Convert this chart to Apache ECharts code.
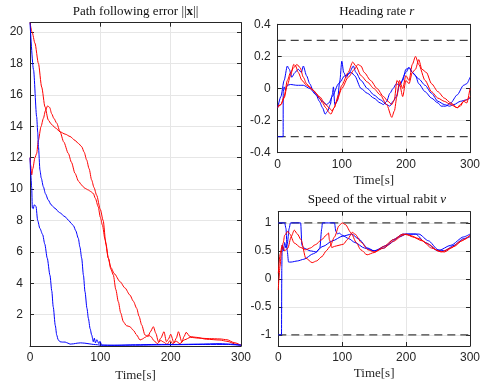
<!DOCTYPE html>
<html><head><meta charset="utf-8">
<script src="https://cdn.jsdelivr.net/npm/echarts@6/dist/echarts.min.js"></script>
<style>html,body{margin:0;padding:0;background:#fff}#c{width:483px;height:389px}</style>
</head><body><div id="c"></div>
<script>
// ---------- DATA ----------
const timeTicks = [0, 100, 200, 300];
const errTicks = [2, 4, 6, 8, 10, 12, 14, 16, 18, 20];
const rateTicks = [-0.4, -0.2, 0, 0.2, 0.4];
const speedTicks = [-1, -0.5, 0, 0.5, 1];
const rateLimits = [0.3, -0.3];
const speedLimits = [1, -1];

// Path following error ||x||
const errBlue1 = [[0,12],[1,11],[2.4,10.1],[3.3,8.8],[4.7,8.75],[6,9.0],[8.5,8.9],[10.9,8.0],[14,7.5],[18,7.1],[21,6.5],[24.5,5.6],[28.4,4.5],[31,3.5],[33,2.5],[36,1.3],[38,0.7],[40,0.4],[42.7,0.27],[46,0.25],[50,0.25],[54,0.18],[57,0.12],[62,0.14],[67,0.18],[72,0.2],[78,0.18],[84,0.14],[90,0.1],[96,0.08],[100,0.05],[120,0.04],[150,0.08],[180,0.1],[210,0.1],[240,0.12],[270,0.15],[285,0.12],[300,0.05]];
const errBlue2 = [[0,20.6],[5,17.6],[9.5,14.6],[11,13.6],[12,12.7],[14.2,11.2],[16,10.7],[19,10.15],[22,9.7],[26,9.3],[30,9.0],[35.5,8.77],[42,8.5],[49.8,8.24],[55,8.0],[59,7.8],[62,7.65],[65,7.35],[68.7,6.86],[71,6.3],[73.5,5.59],[76,4.5],[78.2,3.46],[81,2.4],[83,1.76],[85.5,1.1],[87.7,0.7],[90,0.27],[91.5,0.5],[93,0.2],[95,0.4],[98,0.15],[99.5,0.3],[102,0.06],[110,0.05],[150,0.05],[200,0.08],[250,0.1],[280,0.1],[300,0.05]];
const errRed1 = [[0,20.6],[3,20.0],[7,19.3],[12,18.0],[16.6,16.5],[21.3,15.24],[26,14.4],[30,14.15],[36,13.9],[42.7,13.65],[50,13.5],[57,13.35],[64,13.1],[69,12.9],[73.5,12.7],[77,12.35],[80.6,11.85],[84,11.3],[87.7,10.57],[91,10.1],[94.8,9.6],[100,8.7],[104,8.0],[108,6.5],[111.4,5.6],[115,5.0],[120,4.6],[128,4.1],[135,3.7],[142,3.25],[147,2.85],[151.7,2.4],[155,1.9],[158.8,1.34],[163.5,0.7],[168,0.6],[171,0.9],[175.4,1.23],[179,0.8],[182.5,0.27],[186,0.5],[190.5,0.91],[194,0.27],[197,0.45],[200,0.75],[204.7,0.2],[208,0.5],[211,0.91],[216,0.25],[219,0.6],[222,0.87],[227.5,0.6],[237,0.55],[251,0.43],[270,0.38],[280,0.3],[294,0.1],[300,0.05]];
const errRed2 = [[0,12.0],[1,11.5],[2.4,10.9],[4,11.3],[7,12.0],[9.5,12.27],[11.9,13.1],[15.6,13.97],[19,14.5],[22,15.0],[25,15.3],[28,15.2],[30.8,14.8],[34,14.5],[38,14.2],[42.7,13.65],[48,13.0],[54.5,12.27],[59,11.7],[64,11.0],[69,10.5],[73.5,10.25],[78,10.05],[83,9.94],[86,9.85],[90,9.72],[93,9.4],[97,8.87],[100,8.2],[103,7.7],[106.6,6.8],[111.4,5.59],[115,4.9],[118.5,4.52],[122,3.6],[125.6,2.82],[129,2.1],[132.7,1.55],[137,1.3],[142,1.23],[147,1.0],[151.7,0.7],[156.4,0.38],[160,0.45],[163.5,0.55],[168,0.7],[172,0.6],[176,0.35],[181,0.15],[186,0.35],[190,0.25],[195,0.1],[199,0.35],[203,0.15],[208,0.3],[213,0.15],[220,0.4],[228,0.55],[240,0.5],[255,0.47],[270,0.45],[280,0.4],[290,0.22],[300,0.05]];

// Heading rate r
const rateBlue1 = [[0,-0.3],[8.5,-0.3],[8.6,-0.02],[10,0.01],[12,-0.01],[15,0.02],[20,0.025],[30,0.02],[40,0.02],[50,0.0],[60,-0.04],[70,-0.08],[76,-0.1],[80,-0.09],[85,-0.05],[95,0.03],[105,0.08],[115,0.1],[120,0.08],[130,0.0],[140,-0.03],[150,-0.06],[160,-0.09],[165,-0.1],[170,-0.08],[175,-0.03],[180,0.0],[185,0.03],[190,0.02],[200,0.1],[205,0.13],[210,0.1],[220,0.06],[230,0.02],[240,-0.03],[250,-0.08],[260,-0.1],[268,-0.11],[275,-0.1],[285,-0.08],[295,-0.07],[300,-0.06]];
const rateBlue2 = [[0,-0.12],[5,-0.05],[10,0.05],[15,0.14],[18,0.12],[22,0.07],[27,0.1],[32,0.12],[37,0.1],[40,0.14],[45,0.08],[50,0.03],[55,-0.01],[60,-0.04],[65,-0.08],[70,-0.12],[74,-0.16],[78,-0.14],[82,-0.1],[85,-0.04],[87,0.01],[89,-0.1],[93,-0.08],[97,0.05],[100,0.17],[103,0.1],[107,0.07],[112,0.1],[118,0.14],[122,0.1],[130,0.05],[140,0.0],[150,-0.04],[160,-0.07],[170,-0.1],[175,-0.11],[180,-0.08],[185,-0.05],[190,0.02],[195,0.05],[200,0.12],[205,0.13],[210,0.1],[215,0.08],[220,0.03],[230,-0.02],[240,-0.06],[250,-0.09],[255,-0.11],[262,-0.11],[270,-0.09],[280,-0.04],[290,0.02],[295,0.03],[300,0.07]];
const rateRed1 = [[0,-0.12],[5,-0.1],[10,-0.05],[15,0.05],[20,0.1],[25,0.13],[30,0.15],[35,0.13],[40,0.07],[45,0.03],[50,0.01],[55,-0.01],[60,-0.03],[65,-0.06],[70,-0.09],[75,-0.12],[80,-0.15],[83,-0.16],[88,-0.12],[95,-0.04],[100,0.02],[110,0.1],[117,0.165],[122,0.14],[130,0.08],[140,0.04],[150,0.0],[160,-0.04],[170,-0.1],[178,-0.18],[182,-0.14],[186,-0.05],[190,0.05],[195,0.0],[200,0.08],[205,0.05],[210,0.15],[215,0.2],[220,0.15],[230,0.05],[240,-0.02],[250,-0.06],[260,-0.08],[270,-0.1],[280,-0.12],[285,-0.1],[290,-0.08],[295,-0.07],[300,-0.05]];
const rateRed2 = [[0,-0.11],[5,-0.1],[10,-0.06],[15,0.02],[20,0.08],[25,0.15],[28,0.14],[32,0.1],[38,0.05],[45,0.02],[55,-0.01],[65,-0.05],[75,-0.1],[80,-0.12],[85,-0.14],[88,-0.12],[92,-0.08],[100,0.0],[110,0.07],[120,0.12],[125,0.15],[130,0.14],[135,0.1],[145,0.05],[155,0.0],[165,-0.05],[172,-0.08],[178,-0.1],[182,-0.07],[186,0.05],[190,0.03],[195,-0.05],[200,0.05],[205,0.03],[210,0.1],[215,0.12],[220,0.18],[225,0.12],[232,0.1],[240,0.03],[250,-0.02],[260,-0.06],[270,-0.09],[280,-0.12],[285,-0.11],[290,-0.08],[295,-0.09],[300,0.0]];

// Speed of the virtual rabit v
const speedBlue1 = [[0,-1],[5,-1],[5.5,0.2],[6,0.6],[8,0.5],[10,0.65],[12,0.55],[14,0.62],[17,0.9],[19,1],[35,1],[37,0.6],[40,0.55],[50,0.5],[60,0.48],[65,0.55],[68,0.9],[69,1],[88,1],[90,0.85],[93,0.8],[95,0.82],[100,0.78],[110,0.72],[120,0.65],[135,0.55],[150,0.5],[170,0.6],[190,0.75],[200,0.8],[215,0.8],[230,0.65],[250,0.5],[270,0.6],[290,0.75],[300,0.8]];
const speedBlue2 = [[0,1],[10,1],[12,0.9],[14,0.5],[16,0.3],[20,0.3],[30,0.32],[40,0.35],[55,0.45],[70,0.58],[85,0.68],[100,0.76],[115,0.8],[125,0.72],[140,0.55],[150,0.5],[165,0.55],[180,0.7],[195,0.8],[220,0.8],[235,0.68],[250,0.52],[260,0.5],[275,0.6],[290,0.72],[300,0.75]];
const speedRed1 = [[0,-0.2],[1,0.0],[2.6,0.22],[5,0.5],[7.6,0.64],[10,0.78],[15,0.85],[18,0.8],[25,0.64],[35,0.56],[43,0.52],[50,0.55],[58,0.61],[68,0.7],[75,0.78],[78.6,0.82],[80,0.7],[83.6,0.56],[88,0.58],[95,0.6],[102,0.62],[108,0.7],[116,0.83],[120,0.8],[130,0.65],[140,0.52],[150,0.48],[165,0.55],[180,0.67],[195,0.78],[200,0.8],[210,0.75],[225,0.68],[240,0.55],[255,0.48],[270,0.55],[285,0.67],[300,0.78]];
const speedRed2 = [[0,0.1],[3,0.45],[6,0.6],[10,0.5],[15,0.55],[20,0.75],[25,0.87],[30,0.8],[35.5,0.7],[43,0.37],[53,0.29],[60,0.32],[68.5,0.4],[75,0.5],[81,0.58],[88,0.75],[95,0.95],[100,1.0],[105,0.97],[114,0.82],[122,0.65],[129,0.52],[139,0.43],[150,0.47],[165,0.58],[180,0.7],[195,0.8],[205,0.78],[220,0.72],[235,0.62],[250,0.5],[260,0.48],[275,0.58],[290,0.7],[300,0.77]];

// ---------- CHART ----------
const AX = '#262626', GRIDC = '#e6e6e6';
const SANS = 'Liberation Sans, Arial, sans-serif';
const SERIF = 'Liberation Serif, Times New Roman, serif';
const BLUE = '#0000ff', RED = '#ff0000';

const grids = [
  {left: 30, top: 22.7, width: 211, height: 323.3},
  {left: 277.7, top: 24.3, width: 198, height: 128.4},
  {left: 278.3, top: 211.7, width: 197.4, height: 134.3}
];

function xPair(gi) {
  const base = {type: 'value', gridIndex: gi, min: 0, max: 300, interval: 100,
    axisLine: {show: true, onZero: false, lineStyle: {color: AX, width: 1}},
    axisTick: {show: true, inside: true, length: 4, lineStyle: {color: AX}}};
  return [
    Object.assign({}, base, {position: 'bottom',
      axisLabel: {fontFamily: SANS, fontSize: 12, color: AX, margin: 6},
      splitLine: {show: true, lineStyle: {color: GRIDC, width: 1}},
      name: 'Time[s]', nameLocation: 'middle', nameGap: 21,
      nameTextStyle: {fontFamily: SERIF, fontSize: 13, color: AX}}),
    Object.assign({}, base, {position: 'top', axisLabel: {show: false}, splitLine: {show: false}})
  ];
}
function yPair(gi, min, max, ticks, fmt) {
  const base = {type: 'value', gridIndex: gi, min: min, max: max,
    axisLine: {show: true, onZero: false, lineStyle: {color: AX, width: 1}},
    axisTick: {show: true, inside: true, length: 4, lineStyle: {color: AX}, customValues: ticks}};
  return [
    Object.assign({}, base, {position: 'left',
      axisLabel: {fontFamily: SANS, fontSize: 12, color: AX, margin: 7, customValues: ticks, formatter: fmt},
      splitLine: {show: true, lineStyle: {color: GRIDC, width: 1}}}),
    Object.assign({}, base, {position: 'right', axisLabel: {show: false}, splitLine: {show: false}})
  ];
}
const xAxes = [].concat(xPair(0), xPair(1), xPair(2));
const yAxes = [].concat(
  yPair(0, 0, 20.6, [0].concat(errTicks), v => (v > 0 ? String(v) : '')),
  yPair(1, -0.4, 0.4, rateTicks, v => String(Math.round(v * 10) / 10)),
  yPair(2, -1.2, 1.2, speedTicks, v => String(v))
);

function line(data, color, gi, extra) {
  return Object.assign({type: 'line', data: data, xAxisIndex: gi * 2, yAxisIndex: gi * 2,
    showSymbol: false, symbol: 'none', smooth: 0.25, smoothMonotone: 'x', animation: false,
    lineStyle: {color: color, width: 1}, z: 3}, extra || {});
}
function dash(y, gi) {
  return {type: 'line', data: [[0, y], [300, y]], xAxisIndex: gi * 2, yAxisIndex: gi * 2,
    showSymbol: false, symbol: 'none', animation: false, z: 2,
    lineStyle: {color: '#404040', width: 1.3, type: [8, 5]}};
}

const series = [
  line(errRed1, RED, 0), line(errRed2, RED, 0), line(errBlue1, BLUE, 0), line(errBlue2, BLUE, 0),
  dash(rateLimits[0], 1), dash(rateLimits[1], 1),
  line(rateBlue1, BLUE, 1), line(rateBlue2, BLUE, 1), line(rateRed1, RED, 1), line(rateRed2, RED, 1),
  dash(speedLimits[0], 2), dash(speedLimits[1], 2),
  line(speedBlue1, BLUE, 2), line(speedBlue2, BLUE, 2), line(speedRed1, RED, 2), line(speedRed2, RED, 2)
];

function titleText(x, y, text, rich) {
  return {type: 'text', x: x, y: y, z: 10,
    style: {text: text, align: 'center', verticalAlign: 'middle', fontFamily: SERIF, fontSize: 13, fill: '#111',
      rich: rich}};
}
const chart = echarts.init(document.getElementById('c'), null, {renderer: 'canvas'});
chart.setOption({
  animation: false,
  backgroundColor: '#fff',
  grid: grids,
  xAxis: xAxes,
  yAxis: yAxes,
  series: series,
  graphic: [
    titleText(135.5, 12, 'Path following error ||{b|x}||', {b: {fontFamily: SERIF, fontSize: 13, fontWeight: 'bold', fill: '#111'}}),
    titleText(376.7, 12, 'Heading rate {i|r}', {i: {fontFamily: SERIF, fontSize: 13, fontStyle: 'italic', fill: '#111'}}),
    titleText(377, 200, 'Speed of the virtual rabit {i|v}', {i: {fontFamily: SERIF, fontSize: 13, fontStyle: 'italic', fill: '#111'}})
  ]
});
</script></body></html>
